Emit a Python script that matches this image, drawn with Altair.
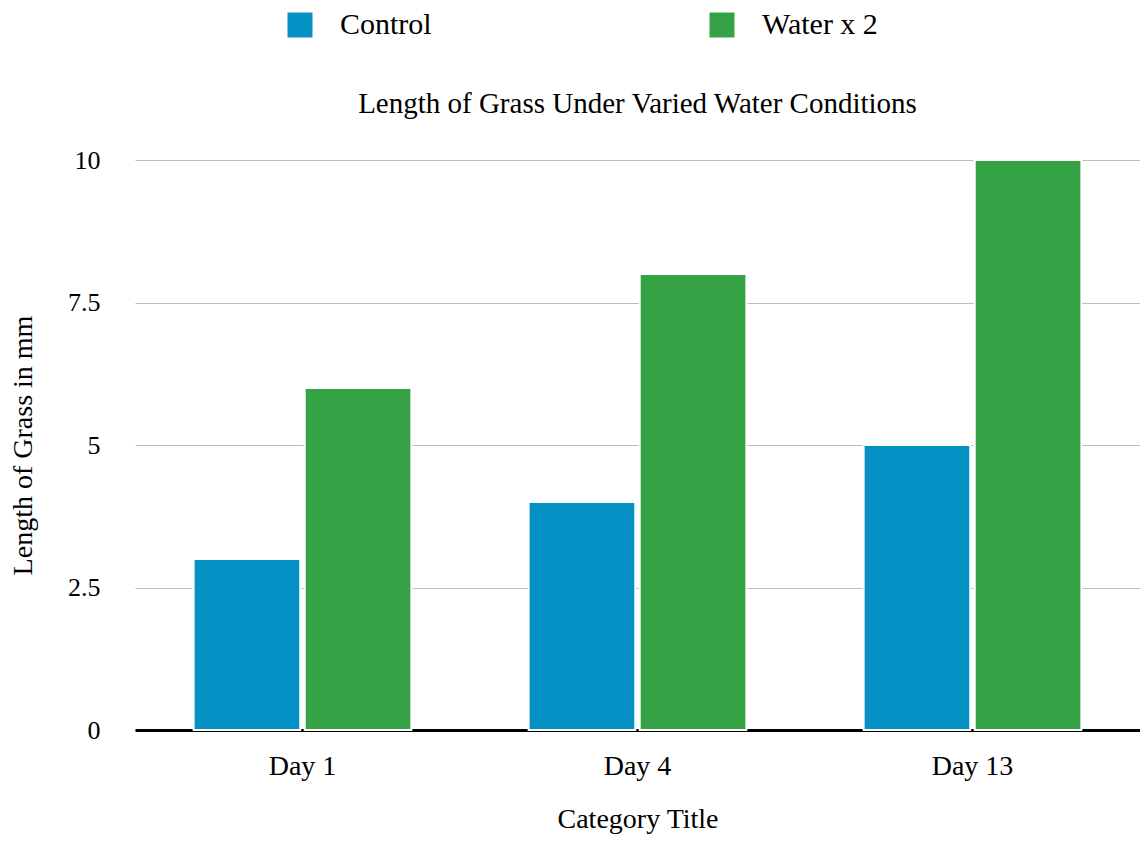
import altair as alt
import pandas as pd

categories = ["Day 1", "Day 4", "Day 13"]
series = ["Control", "Water x 2"]
control_values = [3, 4, 5]
water_values = [6, 8, 10]
colors = ["#0591c3", "#35a245"]
y_ticks = [0, 2.5, 5, 7.5, 10]

rows = []
for c, v in zip(categories, control_values):
    rows.append({"Category": c, "Series": series[0], "Value": v})
for c, v in zip(categories, water_values):
    rows.append({"Category": c, "Series": series[1], "Value": v})
df = pd.DataFrame(rows)

FONT = "Liberation Serif"

bars = alt.Chart(df).mark_bar(stroke="white", strokeWidth=2).encode(
    x=alt.X("Category:N", sort=categories,
            scale=alt.Scale(paddingInner=0.35, paddingOuter=0.175),
            axis=alt.Axis(title="Category Title", labelAngle=0, ticks=False,
                          domain=True, domainColor="black", domainWidth=3,
                          labelFontSize=28, labelPadding=22, titleFontSize=28,
                          titlePadding=25, labelFont=FONT, titleFont=FONT,
                          labelColor="black", titleColor="black",
                          titleFontWeight="normal")),
    xOffset=alt.XOffset("Series:N", sort=series, scale=alt.Scale(paddingInner=0.04)),
    y=alt.Y("Value:Q", scale=alt.Scale(domain=[0, 10], nice=False),
            axis=alt.Axis(title="Length of Grass in mm", values=y_ticks,
                          format=".1~f",
                          ticks=False, domain=False, grid=True,
                          gridColor="#bdbdbd", gridWidth=1,
                          labelFontSize=26, labelPadding=35, titleFontSize=28,
                          titlePadding=30, labelFont=FONT, titleFont=FONT,
                          labelColor="black", titleColor="black",
                          titleFontWeight="normal")),
    color=alt.Color("Series:N", sort=series,
                    scale=alt.Scale(domain=series, range=colors),
                    legend=alt.Legend(title=None, orient="none", legendX=150, legendY=-150,
                                      direction="horizontal", symbolType="square",
                                      symbolSize=625, symbolStrokeWidth=0,
                                      labelFontSize=30, labelFont=FONT,
                                      labelColor="black", labelOffset=25,
                                      columnPadding=275)),
)

chart = bars.properties(
    width=1005, height=570,
    title=alt.TitleParams("Length of Grass Under Varied Water Conditions",
                          font=FONT, fontSize=29, fontWeight="normal",
                          color="black", offset=42, frame="group", dy=151),
    autosize=alt.AutoSizeParams(type="none"),
    padding={"left": 127, "top": 152, "right": 0, "bottom": 104},
).configure_view(stroke=None)

chart.save("out.html", embed_options={"renderer": "svg", "actions": False})
